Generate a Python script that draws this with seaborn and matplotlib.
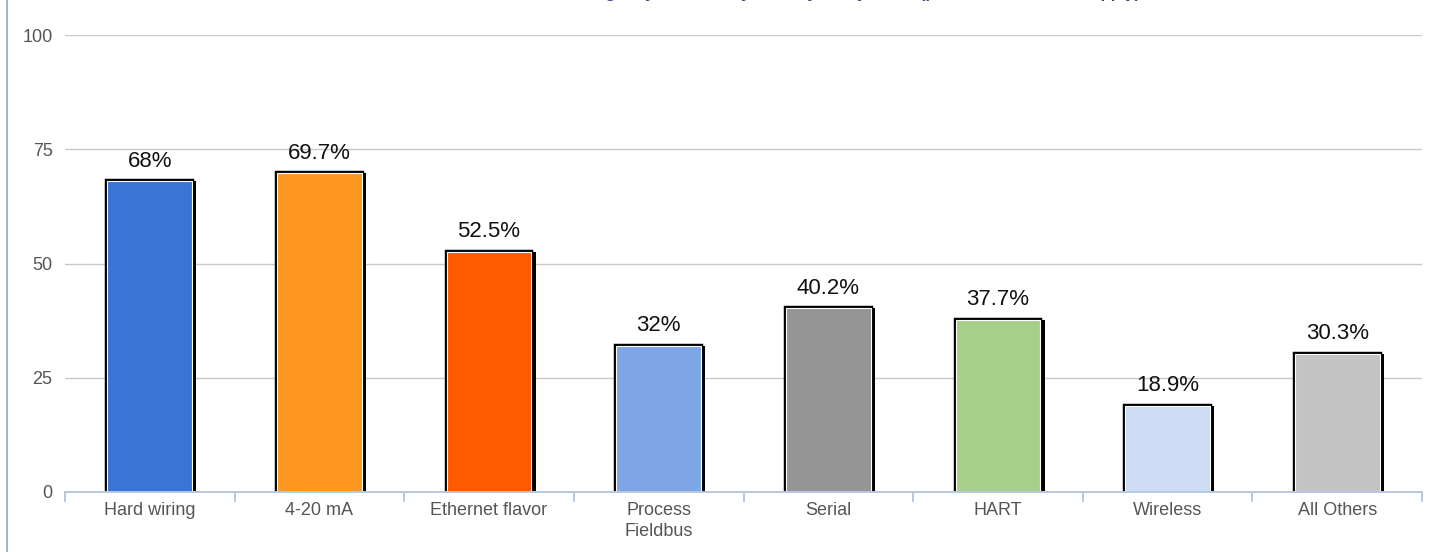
import matplotlib
matplotlib.use("Agg")
import matplotlib.pyplot as plt
import matplotlib.patheffects as pe
from matplotlib.lines import Line2D
from matplotlib.ticker import FixedLocator
import seaborn as sns
import pandas as pd

categories = ["Hard wiring", "4-20 mA", "Ethernet flavor", "Process\nFieldbus",
              "Serial", "HART", "Wireless", "All Others"]
values = [68, 69.7, 52.5, 32, 40.2, 37.7, 18.9, 30.3]
colors = ["#3875D7", "#FF9820", "#FF5A00", "#7EA6E6",
          "#959595", "#A6D08A", "#CCDCF5", "#C3C3C3"]
yticks = [0, 25, 50, 75, 100]
title = "Which of the following do you currently use in your system? (please check all that apply)"

sns.set_theme(style="white")
plt.rcParams["font.family"] = ["Liberation Sans", "DejaVu Sans"]

df = pd.DataFrame({"cat": categories, "val": values})

fig = plt.figure(figsize=(14.4, 5.52), dpi=100)
ax = fig.add_axes([65 / 1440, 1 - 492 / 552, (1422 - 65) / 1440, (492 - 35) / 552])

sns.barplot(data=df, x="cat", y="val", hue="cat", palette=colors, legend=False,
            width=0.5, saturation=1, ax=ax, zorder=3)

for patch in ax.patches:
    patch.set_edgecolor("white")
    patch.set_linewidth(0.8)
    patch.set_path_effects([
        pe.SimplePatchShadow(offset=(3.0, 0), shadow_rgbFace="black", alpha=1.0),
        pe.Stroke(linewidth=3.2, foreground="black"),
        pe.Normal(),
    ])

for i, v in enumerate(values):
    ax.annotate(f"{v:g}%", (i, v), xytext=(0, 7), textcoords="offset points",
                ha="center", va="bottom", fontsize=16, color="#111111")

ax.set_ylim(0, 100)
ax.set_xlim(-0.5, len(categories) - 0.5)
ax.set_yticks(yticks)
ax.set_xlabel("")
ax.set_ylabel("")
ax.yaxis.grid(True, color="#C8C8C8", linewidth=1.0, zorder=0)
ax.set_axisbelow(True)

for side in ["top", "right", "left"]:
    ax.spines[side].set_visible(False)
ax.spines["bottom"].set_color("#B8C8DC")
ax.spines["bottom"].set_linewidth(1.4)
ax.spines["bottom"].set_zorder(4)

ax.tick_params(axis="y", length=0, pad=9, labelsize=13, labelcolor="#555555")
ax.tick_params(axis="x", which="major", length=0, pad=7, labelsize=13, labelcolor="#555555")
ax.xaxis.set_minor_locator(FixedLocator([i - 0.5 for i in range(len(categories) + 1)]))
ax.tick_params(axis="x", which="minor", bottom=True, length=7, width=1.4,
               color="#B8C8DC", direction="out")
for lbl in ax.get_xticklabels():
    lbl.set_linespacing(1.3)

# left frame edge
fig.add_artist(Line2D([7 / 1440, 7 / 1440], [0, 1], transform=fig.transFigure,
                      color="#9BB5D6", linewidth=1.4))

# heading sitting mostly above the canvas edge
fig.text(790 / 1440, 1 + 2 / 552, title, ha="center", va="baseline",
         fontsize=12, fontweight="bold", color="#2E4A7A")

fig.savefig("out.png", dpi=100)
